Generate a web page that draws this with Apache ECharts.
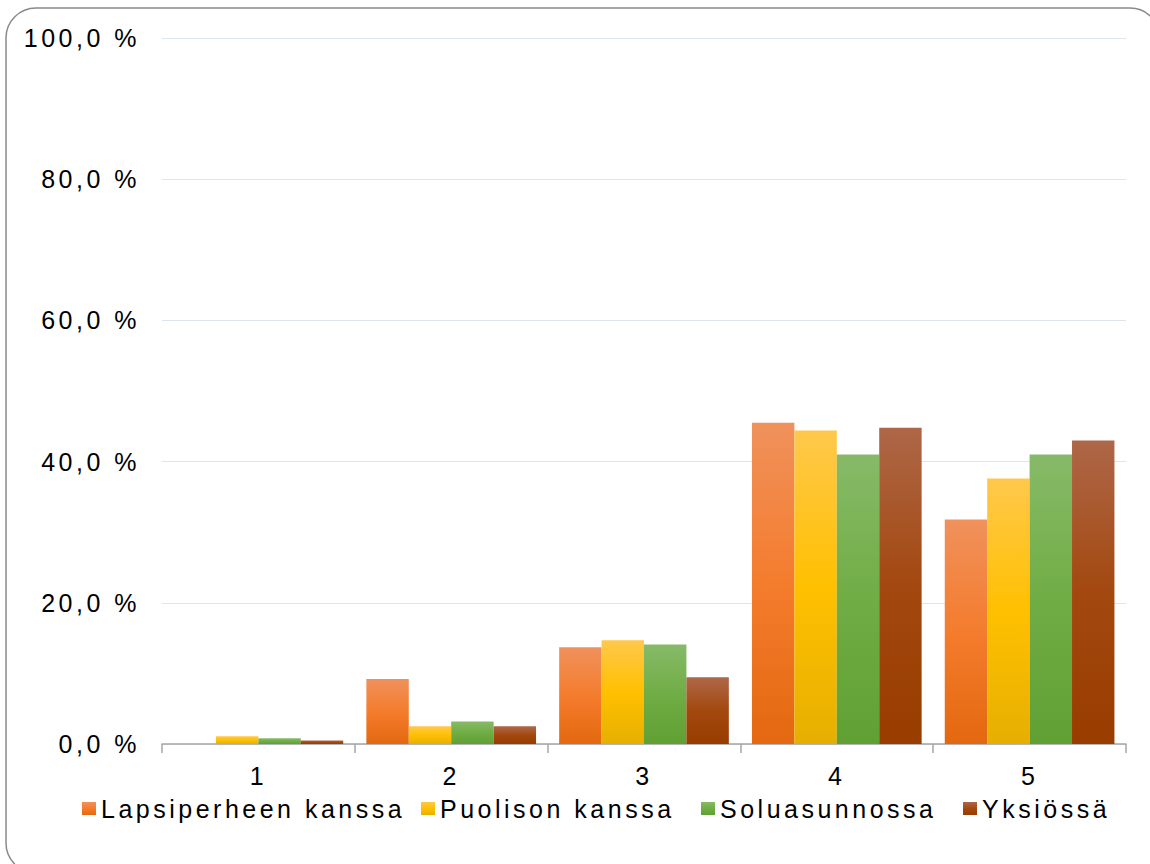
<!DOCTYPE html>
<html>
<head>
<meta charset="utf-8">
<script src="https://cdn.jsdelivr.net/npm/echarts@6/dist/echarts.min.js"></script>
<style>
  html, body { margin: 0; padding: 0; background: #fff; }
  #chart { width: 1150px; height: 864px; }
  #chart text { letter-spacing: 3.5px; }
</style>
</head>
<body>
<div id="chart"></div>
<script>
const categories = ['1', '2', '3', '4', '5'];
const seriesNames = ['Lapsiperheen kanssa', 'Puolison kanssa', 'Soluasunnossa', 'Yksiössä'];
const lapsiperheenKanssa = [0, 9.2, 13.7, 45.5, 31.8];
const puolisonKanssa = [1.1, 2.5, 14.7, 44.4, 37.6];
const soluasunnossa = [0.8, 3.2, 14.1, 41.0, 41.0];
const yksiossa = [0.5, 2.5, 9.45, 44.8, 43.0];
const yTicks = [0, 20, 40, 60, 80, 100];

const gradients = [
  ['#F0915C', '#F47C2D', '#E3680F'],
  ['#FFC84C', '#FFC000', '#E6AF00'],
  ['#87BA68', '#70AD45', '#60A033'],
  ['#AE6748', '#A3480F', '#983C00']
];
function grad(c) {
  return new echarts.graphic.LinearGradient(0, 0, 0, 1, [
    { offset: 0, color: c[0] },
    { offset: 0.5, color: c[1] },
    { offset: 1, color: c[2] }
  ]);
}
const allData = [lapsiperheenKanssa, puolisonKanssa, soluasunnossa, yksiossa];
const font = '"Liberation Sans", Arial, sans-serif';
const legendLefts = [77, 416, 696, 958];

const chart = echarts.init(document.getElementById('chart'), null, { renderer: 'svg' });
chart.setOption({
  animation: false,
  backgroundColor: '#ffffff',
  textStyle: { fontFamily: font },
  graphic: [{
    type: 'rect',
    silent: true,
    shape: { x: 6, y: 8, width: 1154, height: 865, r: 30 },
    style: { fill: 'none', stroke: '#8a8a8a', lineWidth: 1.5 },
    z: 100
  }],
  grid: { left: 162, right: 24, top: 38, bottom: 120, containLabel: false },
  legend: seriesNames.map((n, i) => ({
    data: [n],
    left: legendLefts[i],
    top: 791,
    itemWidth: 14,
    itemHeight: 13,
    itemGap: 0,
    icon: 'rect',
    textStyle: { fontSize: 25, color: '#000', fontFamily: font, padding: [0, 0, 0, 0] }
  })),
  xAxis: {
    type: 'category',
    data: categories,
    axisLine: { lineStyle: { color: '#a6a6a6', width: 1.5 } },
    axisTick: { show: true, length: 9, lineStyle: { color: '#a6a6a6', width: 1.5 } },
    axisLabel: { fontSize: 25, color: '#000', margin: 19, fontFamily: font }
  },
  yAxis: {
    type: 'value',
    min: 0, max: 100, interval: 20,
    axisLine: { show: false },
    axisTick: { show: false },
    splitLine: { lineStyle: { color: '#dde4ed', width: 1 } },
    axisLabel: {
      fontSize: 25, color: '#000', margin: 22, fontFamily: font,
      formatter: v => yTicks.includes(v) ? v.toFixed(1).replace('.', ',') + ' %' : ''
    }
  },
  series: seriesNames.map((n, i) => ({
    name: n,
    type: 'bar',
    data: allData[i],
    barGap: '0%',
    barCategoryGap: '12%',
    itemStyle: { color: grad(gradients[i]) }
  }))
});
</script>
</body>
</html>
